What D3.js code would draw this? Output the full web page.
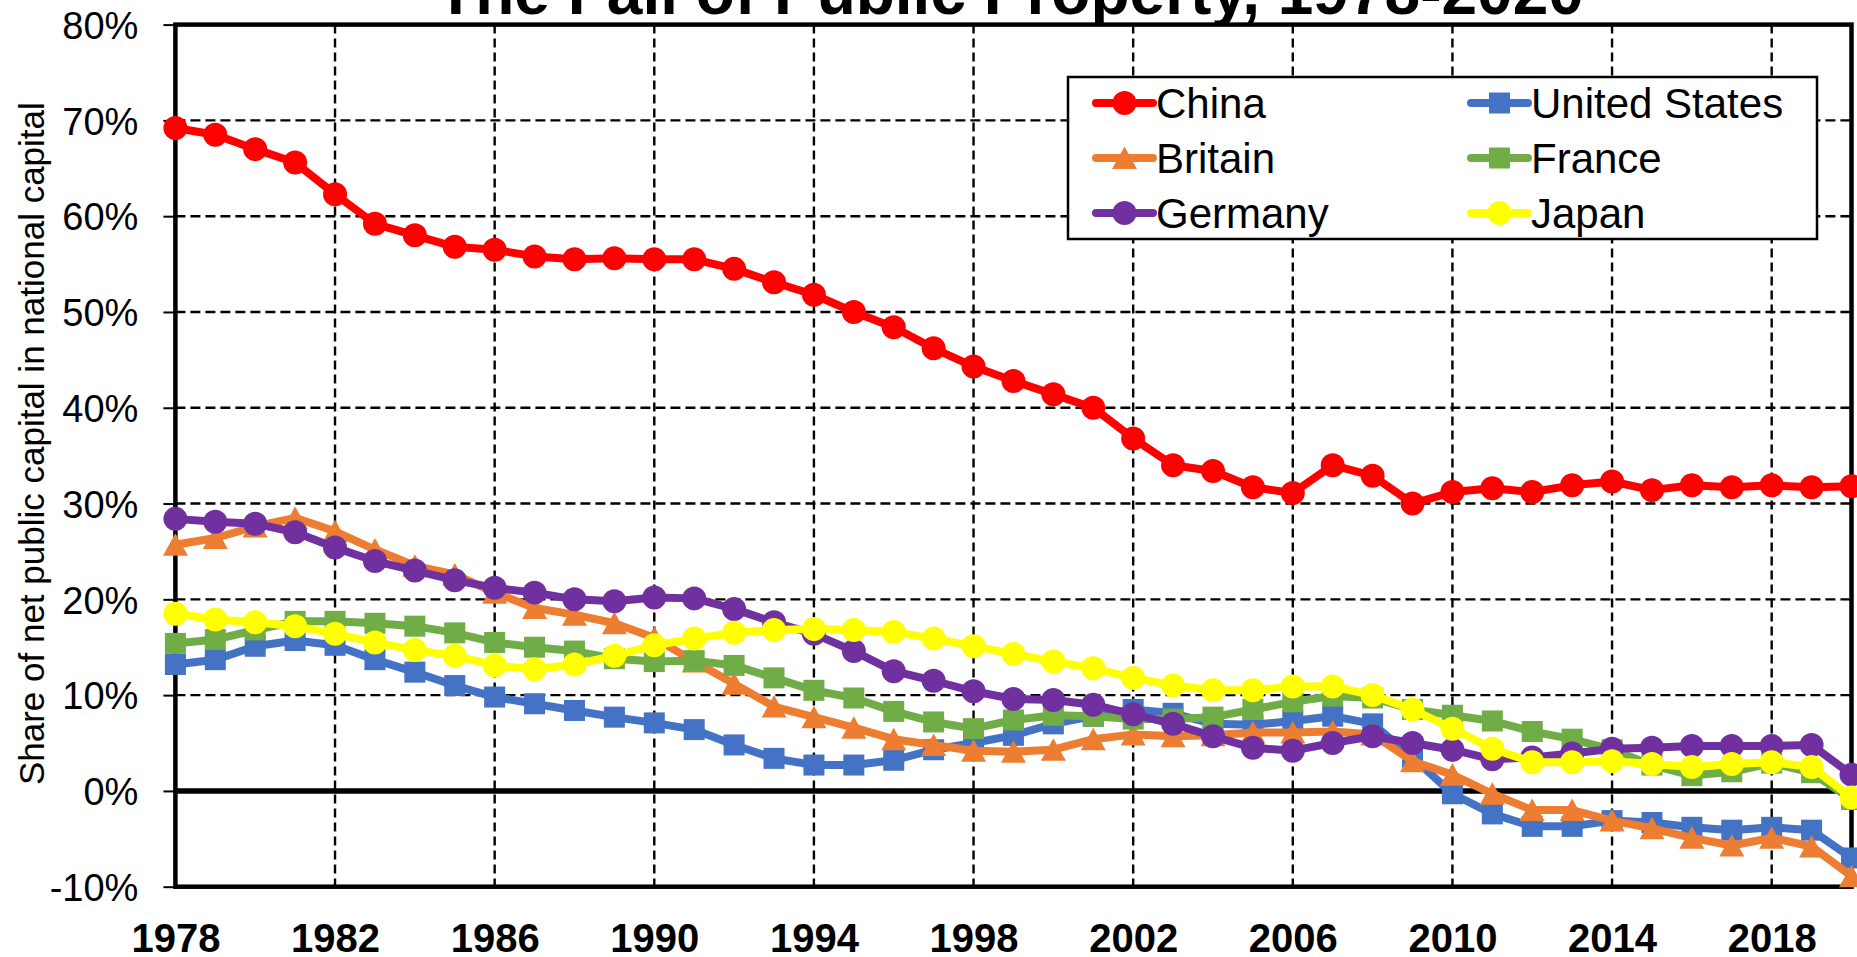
<!DOCTYPE html>
<html>
<head>
<meta charset="utf-8">
<script src="https://cdn.jsdelivr.net/npm/d3@7"></script>
<style>
  body { margin: 0; background: #fff; }
  svg { display: block; font-family: "Liberation Sans", Arial, sans-serif; }
</style>
</head>
<body>
<div id="vis"></div>
<script>
// plot box in page pixels
const margin = { top: 24.6, right: 5.5, bottom: 70.3, left: 175.4 };
const W = 1857, H = 957;
const width = W - margin.left - margin.right;
const height = H - margin.top - margin.bottom;

const years = [1978, 1979, 1980, 1981, 1982, 1983, 1984, 1985, 1986, 1987, 1988, 1989, 1990,
  1991, 1992, 1993, 1994, 1995, 1996, 1997, 1998, 1999, 2000, 2001, 2002, 2003, 2004, 2005,
  2006, 2007, 2008, 2009, 2010, 2011, 2012, 2013, 2014, 2015, 2016, 2017, 2018, 2019, 2020]

const china = [69.2, 68.5, 67.0, 65.6, 62.3, 59.2, 58.0, 56.8, 56.5, 55.8, 55.5, 55.6, 55.5,
  55.5, 54.5, 53.1, 51.8, 50.0, 48.4, 46.2, 44.3, 42.8, 41.4, 40.0, 36.8, 34.0, 33.4, 31.7,
  31.1, 34.0, 32.9, 30.0, 31.2, 31.6, 31.2, 31.9, 32.3, 31.4, 31.9, 31.7, 31.9, 31.7, 31.8]
const usa = [13.2, 13.7, 15.1, 15.7, 15.2, 13.7, 12.4, 11.0, 9.8, 9.1, 8.4, 7.7, 7.1,
  6.4, 4.8, 3.4, 2.7, 2.7, 3.2, 4.3, 5.0, 5.8, 7.0, 7.8, 8.5, 8.1, 7.0, 6.9,
  7.3, 7.8, 7.0, 3.5, -0.3, -2.4, -3.7, -3.7, -3.1, -3.3, -3.8, -4.1, -3.8, -4.1, -7.0]
const britain = [25.7, 26.4, 27.6, 28.5, 27.1, 25.2, 23.5, 22.6, 20.7, 19.1, 18.4, 17.5, 16.0,
  13.5, 11.2, 8.8, 7.7, 6.6, 5.4, 4.8, 4.2, 4.1, 4.3, 5.4, 5.9, 5.7, 5.8, 6.1,
  6.1, 6.2, 5.9, 3.1, 1.7, -0.3, -2.0, -2.0, -3.1, -3.9, -4.9, -5.7, -4.9, -5.8, -8.9]
const france = [15.4, 15.8, 16.8, 17.7, 17.7, 17.5, 17.2, 16.5, 15.5, 15.0, 14.6, 13.8, 13.5,
  13.6, 13.1, 11.8, 10.5, 9.7, 8.3, 7.2, 6.5, 7.4, 7.9, 7.8, 7.5, 7.5, 7.7, 8.5,
  9.3, 9.9, 9.7, 8.5, 7.9, 7.3, 6.2, 5.4, 4.3, 2.7, 1.6, 2.0, 2.9, 1.9, -0.9]
const germany = [28.4, 28.1, 27.9, 27.0, 25.4, 24.0, 23.0, 22.0, 21.2, 20.7, 20.0, 19.8, 20.2,
  20.1, 19.0, 17.6, 16.4, 14.6, 12.5, 11.5, 10.4, 9.6, 9.5, 9.0, 8.0, 7.0, 5.7, 4.5,
  4.2, 5.0, 5.7, 5.0, 4.3, 3.3, 3.5, 3.9, 4.4, 4.5, 4.7, 4.7, 4.7, 4.8, 1.7]
const japan = [18.5, 17.9, 17.6, 17.2, 16.4, 15.5, 14.7, 14.1, 13.1, 12.7, 13.2, 14.1, 15.2,
  15.9, 16.5, 16.8, 16.9, 16.8, 16.6, 15.9, 15.1, 14.3, 13.5, 12.8, 11.8, 11.0, 10.5, 10.5,
  10.9, 10.9, 10.0, 8.5, 6.5, 4.4, 3.0, 3.0, 3.1, 2.8, 2.5, 2.8, 3.0, 2.5, -0.7]

const yTicks = [-10, 0, 10, 20, 30, 40, 50, 60, 70, 80]
const xTicks = [1978, 1982, 1986, 1990, 1994, 1998, 2002, 2006, 2010, 2014, 2018]

// drawing order = Excel series order (legend fills row by row)
const series = [
  { name: 'China', values: china, color: '#FF0000', shape: 'circle' },
  { name: 'United States', values: usa, color: '#4472C4', shape: 'square' },
  { name: 'Britain', values: britain, color: '#ED7D31', shape: 'triangle' },
  { name: 'France', values: france, color: '#70AD47', shape: 'square' },
  { name: 'Germany', values: germany, color: '#7030A0', shape: 'circle' },
  { name: 'Japan', values: japan, color: '#FFFF00', shape: 'circle' }
]

const root = d3.select('#vis').append('svg')
  .attr('width', W)
  .attr('height', H)

// title first, the plot box paints over its descenders like in the original
root.append('text')
  .attr('x', 1010)
  .attr('y', 14)
  .attr('text-anchor', 'middle')
  .style('font-size', '64px')
  .style('font-weight', 'bold')
  .text('The Fall of Public Property, 1978-2020')

const svg = root.append('g')
  .attr('transform', `translate(${margin.left},${margin.top})`)

const xScale = d3.scaleLinear().domain([1978, 2020]).range([0, width])
const yScale = d3.scaleLinear().domain([-10, 80]).range([height, 0])

svg.append('rect')
  .attr('width', width)
  .attr('height', height)
  .attr('fill', '#fff')

// grid
svg.append('g')
  .selectAll('line')
  .data(yTicks.filter(d => d > -10 && d < 80 && d !== 0))
  .join('line')
  .attr('x1', 0).attr('x2', width)
  .attr('y1', d => yScale(d)).attr('y2', d => yScale(d))
  .attr('stroke', '#000').attr('stroke-width', 2.4).attr('stroke-dasharray', '10,5')

svg.append('g')
  .selectAll('line')
  .data(xTicks.filter(d => d > 1978))
  .join('line')
  .attr('x1', d => xScale(d)).attr('x2', d => xScale(d))
  .attr('y1', 0).attr('y2', height)
  .attr('stroke', '#000').attr('stroke-width', 2.4).attr('stroke-dasharray', '9,5')

// zero line
svg.append('line')
  .attr('x1', 0).attr('x2', width)
  .attr('y1', yScale(0)).attr('y2', yScale(0))
  .attr('stroke', '#000').attr('stroke-width', 5.5)

// frame
svg.append('rect')
  .attr('width', width)
  .attr('height', height)
  .attr('fill', 'none')
  .attr('stroke', '#000')
  .attr('stroke-width', 4.5)

// y axis ticks + labels
const yAxis = d3.axisLeft(yScale)
  .tickValues(yTicks)
  .tickSize(12)
  .tickPadding(25)
  .tickFormat(d => d + '%')
const gy = svg.append('g').call(yAxis)
gy.select('.domain').remove()
gy.selectAll('.tick line').attr('stroke', '#000').attr('stroke-width', 2)
gy.selectAll('.tick text')
  .attr('dy', '0.36em')
  .style('font-size', '38px')
  .style('font-family', '"Liberation Sans", Arial, sans-serif')
  .attr('fill', '#000')

// x labels
const xAxis = d3.axisBottom(xScale)
  .tickValues(xTicks)
  .tickSize(0)
  .tickFormat(d => d)
const gx = svg.append('g')
  .attr('transform', `translate(0,${height})`)
  .call(xAxis)
gx.select('.domain').remove()
gx.selectAll('.tick text')
  .attr('y', 0)
  .attr('dy', 0)
  .attr('transform', 'translate(0,65)')
  .style('font-size', '40px')
  .style('font-weight', 'bold')
  .style('font-family', '"Liberation Sans", Arial, sans-serif')
  .attr('fill', '#000')

// y axis title
root.append('text')
  .attr('transform', `translate(44,${margin.top + height / 2 - 12}) rotate(-90)`)
  .attr('text-anchor', 'middle')
  .style('font-size', '35px')
  .text('Share of net public capital in national capital')

function marker(sel, shape, color) {
  if (shape === 'circle') {
    sel.append('circle').attr('r', 12).attr('fill', color)
  } else if (shape === 'square') {
    sel.append('rect').attr('x', -10.5).attr('y', -10.5)
      .attr('width', 21).attr('height', 21).attr('fill', color)
  } else {
    sel.append('path').attr('d', 'M0,-11.5L12.5,11L-12.5,11Z').attr('fill', color)
  }
}

const line = d3.line()
  .x((d, i) => xScale(years[i]))
  .y(d => yScale(d))

series.forEach(s => {
  const g = svg.append('g')
  g.append('path')
    .attr('d', line(s.values))
    .attr('fill', 'none')
    .attr('stroke', s.color)
    .attr('stroke-width', 8)
    .attr('stroke-linejoin', 'round')
  g.selectAll('.pt')
    .data(s.values)
    .join('g')
    .attr('class', 'pt')
    .attr('transform', (d, i) => `translate(${xScale(years[i])},${yScale(d)})`)
    .each(function () { marker(d3.select(this), s.shape, s.color) })
})

// legend
const legend = root.append('g')
legend.append('rect')
  .attr('x', 1068).attr('y', 77)
  .attr('width', 749).attr('height', 162)
  .attr('fill', '#fff')
  .attr('stroke', '#000')
  .attr('stroke-width', 2.5)

series.forEach((s, i) => {
  const col = i % 2, row = Math.floor(i / 2)
  const x0 = col === 0 ? 1096 : 1471
  const cy = 103 + row * 55
  const item = legend.append('g')
  item.append('line')
    .attr('x1', x0).attr('x2', x0 + 57)
    .attr('y1', cy).attr('y2', cy)
    .attr('stroke', s.color)
    .attr('stroke-width', 8)
    .attr('stroke-linecap', 'round')
  marker(item.append('g').attr('transform', `translate(${x0 + 28.5},${cy})`), s.shape, s.color)
  item.append('text')
    .attr('x', x0 + 60)
    .attr('y', cy + 15)
    .style('font-size', '42px')
    .text(s.name)
})
</script>
</body>
</html>
